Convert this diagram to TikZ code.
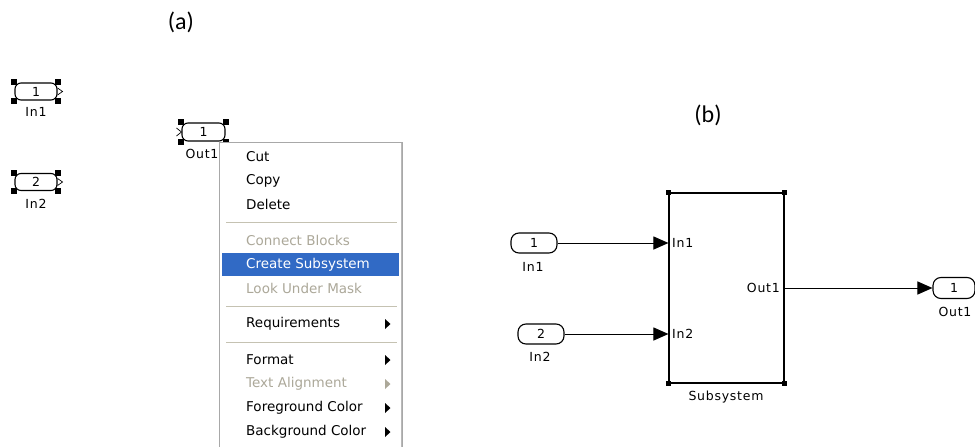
\documentclass[tikz,border=0pt]{standalone}
\usepackage{fontspec}
\setmainfont{DejaVu Sans}
\newfontfamily\capfont{Carlito}
\newfontfamily\simfont[LetterSpace=6]{DejaVu Sans}
\usetikzlibrary{arrows.meta}

\definecolor{menuhl}{HTML}{316AC5}
\definecolor{menugrey}{HTML}{ACA899}
\definecolor{menusep}{HTML}{C5C2B2}
\definecolor{menuborder}{HTML}{A8A8A8}

% small filled triangle marking a submenu
\newcommand\menuarrow[3][black]{\fill[#1] (#2,#3-5) -- (#2+5.5,#3) -- (#2,#3+5) -- cycle;}

\begin{document}
\begin{tikzpicture}[x=1pt,y=-1pt,
  blk/.style={draw, line width=1.1pt, rounded corners=6pt, inner sep=0pt,
    font=\simfont\fontsize{12.5}{12.5}\selectfont},
  handle/.style={fill=black, inner sep=0pt, minimum size=6pt},
  lbl/.style={font=\simfont\fontsize{12.5}{12.5}\selectfont, inner sep=0pt},
  item/.style={anchor=west, inner sep=0pt, font=\fontsize{13.5}{14}\selectfont},
  off/.style={item, text=menugrey},
  sep/.style={draw=menusep, line width=1pt},
  captext/.style={font=\capfont\fontsize{24}{24}\selectfont, inner sep=0pt},
  sig/.style={line width=1pt, -{Triangle[length=15pt,width=13pt]}},
  porttip/.style={line width=0.7pt, line join=miter}
]
\useasboundingbox (0,0) rectangle (975,447);

% ---------- (a): selected blocks and context menu ----------
\node[captext] (capa) at (181,22) {(a)};

\node[blk, minimum width=42pt, minimum height=17pt] (in1a) at (36,91.5) {1};
\node[lbl] (in1alab) at (36,112) {In1};
\foreach \c [count=\i] in {north west,north east,south west,south east}
  \node[handle] (in1ah\i) at (in1a.\c) {};
\draw[porttip] (in1a.east) ++(0,-3.5) -- ++(5,3.5) -- ++(-5,3.5);

\node[blk, minimum width=42pt, minimum height=17pt] (in2a) at (36,182) {2};
\node[lbl] (in2alab) at (36,204) {In2};
\foreach \c [count=\i] in {north west,north east,south west,south east}
  \node[handle] (in2ah\i) at (in2a.\c) {};
\draw[porttip] (in2a.east) ++(0,-3.5) -- ++(5,3.5) -- ++(-5,3.5);

\node[blk, minimum width=43pt, minimum height=18pt] (out1a) at (203.5,132) {1};
\node[lbl] (out1alab) at (202,154) {Out1};
\foreach \c [count=\i] in {north west,north east,south west,south east}
  \node[handle] (out1ah\i) at (out1a.\c) {};
\draw[porttip] (out1a.west) ++(-5,-4) -- ++(5,4) -- ++(-5,4);

% context menu
\path[fill=white, draw=menuborder, line width=0.8pt] (219,142.5) rectangle (402,452);
\draw[gray!55, line width=1.5pt] (401.5,142.5) -- (401.5,447);

\node[item] (mcut)  at (246,157) {Cut};
\node[item] (mcopy) at (246,181) {Copy};
\node[item] (mdel)  at (246,204) {Delete};
\draw[sep] (226,222) -- (397,222);
\node[off]  (mconn) at (246,240) {Connect Blocks};
\fill[menuhl] (222,253) rectangle (399,276);
\node[item, text=white] (mcreate) at (246,264.5) {Create Subsystem};
\node[off]  (mlook) at (246,288) {Look Under Mask};
\draw[sep] (226,306) -- (397,306);
\node[item] (mreq)  at (246,324) {Requirements};
\menuarrow{385}{324}
\draw[sep] (226,342) -- (397,342);
\node[item] (mfmt)  at (246,360) {Format};
\menuarrow{385}{360}
\node[off]  (malign) at (246,384) {Text Alignment};
\menuarrow[menugrey]{385}{384}
\node[item] (mfg)   at (246,408) {Foreground Color};
\menuarrow{385}{408}
\node[item] (mbg)   at (246,432) {Background Color};
\menuarrow{385}{432}

% ---------- (b): resulting subsystem ----------
\node[captext] (capb) at (708,115) {(b)};

\node[draw, line width=1.1pt, minimum width=115pt, minimum height=190pt,
      inner sep=0pt] (subsys) at (726.5,288) {};
\foreach \c [count=\i] in {north west,north east,south west,south east}
  \node[handle, minimum size=5.5pt] (subh\i) at (subsys.\c) {};
\node[lbl] (sublab) at (726,397) {Subsystem};
\node[lbl, anchor=west] (subin1) at (672,243) {In1};
\node[lbl, anchor=west] (subin2) at (672,334) {In2};
\node[lbl, anchor=east] (subout1) at (780,288) {Out1};

\node[blk, rounded corners=8pt, minimum width=46pt, minimum height=20pt] (in1b) at (534,243) {1};
\node[lbl] (in1blab) at (533,267) {In1};
\node[blk, rounded corners=8pt, minimum width=46pt, minimum height=20pt] (in2b) at (541,334) {2};
\node[lbl] (in2blab) at (540,357) {In2};
\node[blk, rounded corners=8pt, minimum width=42pt, minimum height=21pt] (out1b) at (954,288) {1};
\node[lbl] (out1blab) at (955,312) {Out1};

\draw[sig] (in1b.east) -- (in1b.east -| subsys.west);
\draw[sig] (in2b.east) -- (in2b.east -| subsys.west);
\draw[sig] (subsys.east |- out1b.west) -- (out1b.west);
\end{tikzpicture}
\end{document}
